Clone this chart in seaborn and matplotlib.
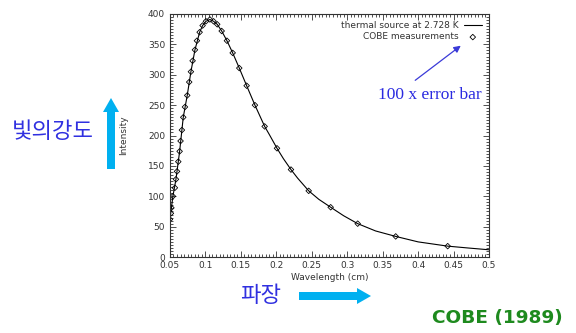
import matplotlib
matplotlib.use("Agg")
import matplotlib.pyplot as plt
from matplotlib.ticker import MultipleLocator
from matplotlib.patches import FancyArrow, FancyArrowPatch
import seaborn as sns
import pandas as pd

cobe_wl = [0.0500, 0.0514, 0.0521, 0.0542, 0.0570, 0.0585, 0.0600, 0.0618, 0.0637,
           0.0650, 0.0669, 0.0688, 0.0712, 0.0744, 0.0772, 0.0796, 0.0820, 0.0853,
           0.0881, 0.0919, 0.0961, 0.1008, 0.1064, 0.1115, 0.1167, 0.1230, 0.1304,
           0.1385, 0.1478, 0.1582, 0.1699, 0.1836, 0.2010, 0.2207, 0.2457, 0.2767,
           0.3148, 0.3684, 0.4417]
cobe_int = [62, 72, 81, 100, 114, 128, 141, 157, 174,
            191, 209, 230, 247, 266, 288, 305, 323, 341,
            356, 370, 381, 388, 391, 388, 383, 372, 356,
            336, 311, 282, 250, 215, 179, 144, 109, 82,
            55, 34, 18]

# thermal source curve points
curve_wl = [0.0500, 0.0542, 0.0585, 0.0637, 0.0688, 0.0744, 0.0796, 0.0853, 0.0919,
            0.0961, 0.1008, 0.1064, 0.1115, 0.1167, 0.1230, 0.1304, 0.1385, 0.1478,
            0.1582, 0.1699, 0.1836, 0.1900, 0.2010, 0.2100, 0.2207, 0.2300, 0.2457,
            0.2600, 0.2767, 0.2950, 0.3148, 0.3400, 0.3684, 0.4000, 0.4417, 0.4700, 0.5000]
curve_int = [62, 100, 128, 174, 230, 266, 305, 341, 370,
             381, 388, 391, 388, 383, 372, 356, 336, 311,
             282, 250, 215, 202, 179, 162, 144, 130, 109,
             95, 82, 68, 55, 43, 34, 25, 18, 15, 12]

x_ticks = [0.05, 0.1, 0.15, 0.2, 0.25, 0.3, 0.35, 0.4, 0.45, 0.5]
x_tick_labels = ["0.05", "0.1", "0.15", "0.2", "0.25", "0.3", "0.35", "0.4", "0.45", "0.5"]
y_ticks = [0, 50, 100, 150, 200, 250, 300, 350, 400]

sns.set_style("white")
plt.rcParams['font.family'] = ['DejaVu Sans']

fig = plt.figure(figsize=(5.76, 3.33), dpi=100)
ax = fig.add_axes([0.295, 0.228, 0.554, 0.730])

df_curve = pd.DataFrame({"wl": curve_wl, "I": curve_int})
df_cobe = pd.DataFrame({"wl": cobe_wl, "I": cobe_int})

sns.lineplot(data=df_curve, x="wl", y="I", ax=ax, color="black", linewidth=0.8,
             label="thermal source at 2.728 K", sort=False)
sns.scatterplot(data=df_cobe, x="wl", y="I", ax=ax, marker="D", s=8,
                facecolor="none", edgecolor="black", linewidth=0.6,
                label="COBE measurements")

ax.set_xlim(0.05, 0.5)
ax.set_ylim(0, 400)
ax.set_xticks(x_ticks)
ax.set_xticklabels(x_tick_labels)
ax.set_yticks(y_ticks)
ax.xaxis.set_minor_locator(MultipleLocator(0.005))
ax.yaxis.set_minor_locator(MultipleLocator(5))
ax.tick_params(which="both", direction="in", top=True, right=True, bottom=True,
               left=True, colors="#333333", labelsize=6.5, width=0.6)
ax.tick_params(which="major", length=4)
ax.tick_params(which="minor", length=2)
ax.tick_params(axis="x", pad=3)
for s in ax.spines.values():
    s.set_linewidth(0.8)
    s.set_color("#333333")

ax.set_xlabel("Wavelength (cm)", fontsize=6.5, color="#333333", labelpad=2)
ax.set_ylabel("Intensity", fontsize=6.5, color="#333333", labelpad=14)

leg = ax.legend(loc="upper right", frameon=False, markerfirst=False, fontsize=6.5,
                handlelength=2.0, handletextpad=0.6, borderaxespad=0.4,
                labelspacing=0.25)
for t in leg.get_texts():
    t.set_color("#333333")

# annotation "100 x error bar"
fig.text(0.657, 0.714, "100 x error bar", fontsize=12.5, color="#2a2ae0",
         family="Liberation Serif", ha="left", va="center")
fig.add_artist(FancyArrowPatch(
    (413 / 576, 1 - 82 / 333), (463 / 576, 1 - 44 / 333),
    transform=fig.transFigure, arrowstyle="-|>,head_length=4,head_width=2",
    color="#3a3ad8", linewidth=0.9))

# Korean labels
fig.text(0.020, 1 - 131 / 333, "빛의강도", fontsize=16, color="#3030e0",
         family=["Noto Sans CJK KR", "DejaVu Sans"], ha="left", va="center")
fig.text(240 / 576, 1 - 296 / 333, "파장", fontsize=16, color="#3030e0",
         family=["Noto Sans CJK KR", "DejaVu Sans"], ha="left", va="center")

# cyan arrows
fig.add_artist(FancyArrow(111 / 576, 1 - 169 / 333, 0, (169 - 98) / 333,
                          width=8 / 576, head_width=16 / 576,
                          head_length=14 / 333, length_includes_head=True,
                          transform=fig.transFigure, color="#00b0f0", lw=0))
fig.add_artist(FancyArrow(299 / 576, 1 - 296 / 333, (371 - 299) / 576, 0,
                          width=8 / 333, head_width=16 / 333,
                          head_length=14 / 576, length_includes_head=True,
                          transform=fig.transFigure, color="#00b0f0", lw=0))

fig.text(563 / 576, 1 - 318 / 333, "COBE (1989)", fontsize=13.3, color="#1e8a1e",
         fontweight="bold", ha="right", va="center")

fig.savefig("out.png", dpi=100)
